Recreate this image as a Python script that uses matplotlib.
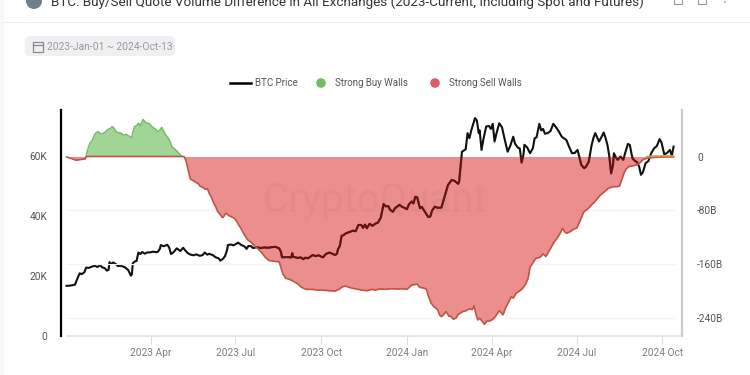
#!/usr/bin/env python3
"""BTC buy/sell quote volume difference, CryptoQuant style chart."""

import matplotlib
matplotlib.use("Agg")
import matplotlib.dates as mdates
import matplotlib.pyplot as plt
import pandas as pd
from matplotlib.lines import Line2D
from matplotlib.patches import Circle, FancyBboxPatch, Rectangle

START = pd.Timestamp("2023-01-01")

# days since START, BTC price in thousands of USD
PRICE_DAYS = [0, 4, 9, 11, 14, 16, 19, 21, 24, 27, 30, 33, 36, 38, 41, 43, 45, 46, 48, 50, 53, 55, 58, 61, 63, 66, 69, 70, 71, 73, 75, 77, 79, 81, 84, 86, 90, 93, 96, 98, 100, 101, 104, 108, 110, 112, 115, 118, 120, 122, 125, 127, 130, 133, 136, 139, 143, 146, 148, 151, 153, 157, 160, 163, 165, 168, 170, 172, 173, 176, 179, 184, 187, 191, 193, 195, 198, 200, 204,
              208, 212, 216, 220, 224, 228, 230, 231, 236, 241, 242, 243, 248, 251, 254, 256, 259, 264, 267, 270, 275, 278, 282, 285, 288, 290, 291, 293, 295, 297, 300, 304, 307, 310, 313,
              316, 318, 320, 322, 325, 328, 331, 334, 337, 340, 342, 345, 347, 350, 352, 354, 357, 360, 363, 365, 367, 370, 372, 374, 376, 379, 381, 384, 388, 390, 392, 395, 398, 402, 405, 409, 413, 416, 420, 421, 424, 426, 428,
              430, 432, 434, 436, 438, 440, 442, 443, 445, 447, 450, 453, 455, 457, 459, 461, 464, 467, 470, 473, 476, 479, 481, 484, 486, 488, 490, 491, 494, 497, 500, 502, 504, 507, 509, 511, 513, 516, 519, 522, 525, 528, 531, 536, 539, 542, 545, 548, 550, 552, 555, 557, 560, 563, 565, 567, 569, 571, 574, 576, 578, 580, 582, 584, 586, 587, 589, 591, 594, 597, 600, 602, 604, 606, 607, 609, 612, 614, 616, 618, 621, 624, 627, 630, 633, 636, 638, 641, 644, 647, 649, 651]
PRICE_K = [16.7, 16.8, 17.1, 18.7, 20.9, 20.6, 21.2, 22.8, 22.7, 23.1, 23.4, 23.0, 23.6, 22.9, 22.6, 21.8, 22.0, 24.6, 24.0, 24.5, 23.9, 23.3, 23.4, 23.1, 22.8, 22.0, 20.1, 20.6, 24.2, 24.8, 25.0, 27.8, 27.3, 28.0, 27.4, 27.8, 27.9, 28.1, 27.9, 28.1, 29.0, 30.3, 29.9, 30.4, 29.5, 27.3, 28.0, 29.2, 28.8, 28.3, 29.4, 28.6, 27.6, 27.1, 26.9, 27.2, 26.7, 27.0, 27.8, 27.1, 27.4, 26.9, 26.2, 25.9, 25.1, 25.8, 26.7, 28.5, 30.3, 30.5, 30.2, 31.1, 30.4, 29.8, 29.0, 30.0, 29.9, 29.3, 29.6,
           29.3, 29.5, 29.4, 29.6, 29.7, 29.2, 27.9, 26.2, 26.3, 26.2, 27.6, 26.4, 26.0, 26.2, 25.6, 26.1, 25.9, 27.0, 26.6, 26.9, 26.2, 27.3, 27.8, 27.4, 27.0, 27.4, 28.9, 30.0, 33.4, 33.6, 34.3, 34.7, 35.1, 34.9, 37.0,
           37.0, 36.0, 37.1, 35.9, 37.4, 36.7, 37.4, 37.8, 39.5, 44.0, 43.2, 43.3, 42.0, 41.4, 42.5, 43.0, 43.7, 43.0, 42.6, 42.2, 43.8, 44.8, 44.2, 46.4, 46.2, 42.6, 43.0, 41.5, 39.6, 39.8, 41.8, 43.1, 42.7, 42.8, 46.0, 50.3, 52.0, 51.7, 50.7, 51.5, 61.4, 61.8, 62.2,
           67.6, 65.9, 68.5, 70.5, 72.6, 71.8, 67.6, 68.5, 62.0, 65.5, 69.8, 70.0, 69.0, 70.7, 64.8, 67.5, 70.9, 69.5, 65.3, 61.4, 63.5, 66.4, 64.0, 62.8, 62.5, 57.8, 60.5, 63.7, 62.8, 60.9, 62.5, 65.9, 66.2, 70.7, 68.5, 69.0, 67.4, 67.6, 68.3, 70.7, 69.5, 68.1, 66.4, 65.3, 63.0, 60.9, 61.0, 62.0, 59.5, 57.0, 55.9, 56.4, 58.1, 63.5, 66.0, 67.6, 66.2, 64.8, 66.5, 67.8, 66.0, 63.7, 60.0, 54.2, 57.0, 60.9, 59.5, 58.7, 59.8, 58.7, 62.0, 64.0, 63.7, 60.5, 59.2, 58.5, 57.8, 56.5, 53.7, 54.5, 57.6, 58.3, 60.9, 62.5, 63.3, 65.6, 64.5, 60.5, 61.0, 62.0, 60.1, 63.1]

# strong buy walls, billions
BUY_DAYS = [21, 23, 25, 28, 30, 32, 34, 36, 38, 41, 44, 47, 49, 51, 53, 55, 58, 61, 64, 66, 68, 70, 71, 73, 75, 77, 79, 82, 85, 87, 89, 92, 95, 98, 100, 102, 104, 106, 109, 111, 113, 116, 119, 122, 124]
BUY_B = [1, 12, 19.8, 25, 33, 35.7, 37, 34, 33.8, 35.7, 40, 42, 44.6, 42, 37, 35.7, 35, 32, 33, 30.8, 30, 27.4, 36, 44.6, 46, 49.5, 46, 55.4, 50, 50, 48.4, 44, 41, 37, 39, 43.5, 38, 33, 27.4, 22, 14.6, 11, 7, 2.2, 0]
# small buy walls again at the end of the period
BUY_TAIL_DAYS = [622, 630, 640, 651]
BUY_TAIL_B = [0, 0.8, 1, 0.8]

# strong sell walls, billions
SELL_DAYS = [0, 3, 6, 10, 15, 20, 21, 124, 126, 128, 130, 132, 133, 136, 139, 141, 143, 146, 149, 151, 153, 155, 158, 160, 162, 165, 167, 168, 170, 171, 174, 177, 180, 183, 185, 187, 190, 194, 198, 202, 205, 209, 213, 217, 222, 228, 230, 232, 235, 239, 244, 248, 252, 257, 263, 269, 275, 281, 288, 292, 296, 299, 303, 307, 311, 316, 322, 327, 331, 336, 342, 348, 355, 360, 365, 368, 370, 373, 376, 378, 380, 383, 386, 388, 391, 394, 396, 398, 400, 402, 404, 407, 410, 412, 415, 418, 420, 422, 425, 428, 432, 435, 437, 439, 441, 443, 446, 448, 451, 454, 457, 460, 462, 464, 466, 468, 471, 474, 477, 479, 482, 485, 487, 489, 492, 495, 497, 498, 503, 508, 511, 514, 519, 523, 526, 529, 532, 534, 536, 540, 544, 547, 550, 553, 555, 559, 563, 566, 568, 572, 577, 581, 586, 590, 593, 596, 598, 600, 603, 607, 611, 615, 618, 622, 628, 635, 643, 651]
SELL_B = [-0.7, -2, -3.5, -5.5, -4.5, -3.5, 0, 0, 0, -6, -17.6, -30, -34, -36, -39, -40, -44, -46, -49, -48, -55, -60, -70, -75, -82, -87, -91, -90.6, -86, -84.6, -88, -90, -92, -98, -103, -107, -115, -124, -128, -134, -137, -143, -150, -155, -156, -157, -166, -175, -181.5, -183, -186.5, -190, -195, -198, -198, -199, -199, -200, -200.4, -198, -194, -193, -195, -196.5, -197.4, -199, -200, -198, -199, -197.4, -198, -197, -197.5, -197, -198, -194, -191.5, -191, -190, -194, -195.5, -196, -198, -208, -218.7, -224, -226, -228.7, -236, -238.7, -236, -231, -238, -238, -242.6, -240, -235, -233.6, -231, -230, -227, -228, -222.7, -235, -243.6, -241, -246, -250, -245, -245, -242.6, -238, -234, -229.7, -233, -236, -225, -217, -209, -211, -204, -201, -199, -196.4, -191, -181.5, -165, -163, -152, -150, -145, -149, -137, -127, -122, -115, -107, -112, -114.4, -112, -108, -107, -98, -88, -82, -78, -72, -68, -64.8, -58, -52, -47.4, -45, -45, -44, -32, -24, -18.8, -15, -14, -12.7, -9, -5, -2.7, -1.5, -1, -0.8, -0.5]

LEFT_TICKS = [0, 20, 40, 60]
LEFT_LABELS = ["0", "20K", "40K", "60K"]
RIGHT_TICKS = [0, -80, -160, -240]
RIGHT_LABELS = ["0", "-80B", "-160B", "-240B"]
DATE_TICKS = ["2023-04-01", "2023-07-01", "2023-10-01", "2024-01-01", "2024-04-01", "2024-07-01", "2024-10-01"]
DATE_LABELS = ["2023 Apr", "2023 Jul", "2023 Oct", "2024 Jan", "2024 Apr", "2024 Jul", "2024 Oct"]

TITLE = "BTC: Buy/Sell Quote Volume Difference in All Exchanges (2023-Current, Including Spot and Futures)"
DATE_RANGE = "2023-Jan-01 ~ 2024-Oct-13"

FONT = ["Roboto"]
GREY = "#7d7d7d"
GREEN_FILL, GREEN_LINE = "#9bd391", "#78bb6b"
RED_FILL, RED_LINE = "#e55f5f", "#bf5546"
W, H = 750, 375


def to_dates(days):
    return START + pd.to_timedelta(days, unit="D")


def page(fig):
    """Card furniture around the chart, in pixel coordinates."""
    bg = fig.add_axes([0, 0, 1, 1], zorder=0)
    bg.set_xlim(0, W); bg.set_ylim(H, 0); bg.axis("off")
    bg.add_patch(Rectangle((0, 0), 4, H, color="#f8f8f8", lw=0))
    bg.add_patch(Rectangle((4, 22), W - 4, 1, color="#ececec", lw=0))
    bg.add_patch(Circle((34, 1), 8, color="#6f7f8c", lw=0))
    bg.text(51, 6, TITLE, family=FONT, fontsize=9.7, color="#333333", va="baseline", ha="left")
    for x in (678, 702):
        bg.add_patch(Rectangle((x - 4, -4), 8, 8, fill=False, ec="#9a9a9a", lw=0.8))
    bg.add_patch(Circle((725, 2), 0.9, color="#9a9a9a", lw=0))
    bg.add_patch(FancyBboxPatch((27, 38), 146, 16, boxstyle="round,pad=0,rounding_size=3", mutation_aspect=1, fc="#f0f0f3", ec="#f0f0f3", lw=3))
    bg.add_patch(Rectangle((32.5, 42), 10, 9.5, fill=False, ec="#8a8a90", lw=0.9))
    bg.plot([32.5, 42.5], [44.8, 44.8], color="#8a8a90", lw=0.9)
    bg.text(47, 46.5, DATE_RANGE, family=FONT, fontsize=7.4, color="#9a9a9f", va="center", ha="left")
    # legend
    bg.add_line(Line2D([230, 251], [83, 83], color="black", lw=1.8))
    bg.text(255, 83, "BTC Price", family=FONT, fontsize=7, color="#555555", va="center")
    bg.add_patch(Circle((321, 83), 4.8, color="#71bb62", lw=0))
    bg.text(335, 83, "Strong Buy Walls", family=FONT, fontsize=7, color="#555555", va="center")
    bg.add_patch(Circle((435, 83), 4.8, color="#dd5e62", lw=0))
    bg.text(449, 83, "Strong Sell Walls", family=FONT, fontsize=7, color="#555555", va="center")


def main():
    fig = plt.figure(figsize=(W / 100, H / 100), dpi=100, facecolor="white")
    page(fig)

    ax = fig.add_axes([61 / W, 1 - 336 / H, 621 / W, 226 / H], zorder=1)
    ax.patch.set_alpha(0)
    right = ax.twinx()
    right.set_zorder(2)
    right.patch.set_alpha(0)

    price_x = to_dates(PRICE_DAYS)
    ax.plot(price_x, PRICE_K, color="#111111", lw=1.5, solid_joinstyle="round")

    buy_x, sell_x = to_dates(BUY_DAYS), to_dates(SELL_DAYS)
    right.fill_between(buy_x, BUY_B, 0, color=GREEN_FILL, lw=0, alpha=0.95)
    right.plot(buy_x, BUY_B, color=GREEN_LINE, lw=1.1)
    sell_fill = right.fill_between(sell_x, SELL_B, 0, color=RED_FILL, lw=0, alpha=0.7)
    # the price shows through the red area as dark maroon
    under = right.plot(price_x, PRICE_K, color="#5e1414", lw=1.5, transform=ax.transData)[0]
    under.set_clip_path(sell_fill.get_paths()[0], sell_fill.get_transform())
    right.plot(sell_x, SELL_B, color=RED_LINE, lw=1.2)
    right.plot(to_dates(BUY_TAIL_DAYS), BUY_TAIL_B, color="#c9a24a", lw=1.1)

    xmin, xmax = to_dates([-6])[0], to_dates([660])[0]
    ax.set_xlim(xmin, xmax)
    ax.set_ylim(0, 75.3)
    right.set_ylim(-267.5, 69.3)
    right.set_xlim(xmin, xmax)

    for val in RIGHT_TICKS[1:]:
        right.plot([to_dates([0])[0], to_dates([651])[0]], [val, val], color="#f3f3f3", lw=0.8, zorder=0)

    ax.set_yticks(LEFT_TICKS, LEFT_LABELS)
    right.set_yticks(RIGHT_TICKS, RIGHT_LABELS)
    ax.set_xticks(pd.to_datetime(DATE_TICKS), DATE_LABELS)
    ax.tick_params(axis="x", length=6, width=0.8, color="#dddddd", pad=3, labelsize=7.3, labelcolor=GREY)
    ax.tick_params(axis="y", length=0, pad=10, labelsize=7.3, labelcolor="#555555")
    right.tick_params(axis="y", length=0, pad=11, labelsize=7.3, labelcolor="#555555")
    for label in ax.get_xticklabels() + ax.get_yticklabels() + right.get_yticklabels():
        label.set_family(FONT)

    for axis in (ax, right):
        axis.spines["top"].set_visible(False)
    ax.spines["left"].set_linewidth(1.6)
    ax.spines["left"].set_color("black")
    ax.spines["right"].set_visible(False)
    ax.spines["bottom"].set_color("#e2e2e2")
    ax.spines["bottom"].set_linewidth(1.2)
    ax.spines["bottom"].set_bounds(mdates.date2num(to_dates([0])[0]), mdates.date2num(xmax))
    right.spines["left"].set_visible(False)
    right.spines["bottom"].set_visible(False)
    right.spines["right"].set_color("#cccccc")
    right.spines["right"].set_linewidth(1.6)

    fig.text(375 / W, 1 - 200 / H, "CryptoQuant", family=FONT, fontsize=29, color="#8a3a3a", alpha=0.06, ha="center", va="center", zorder=5)

    fig.savefig("out.png", dpi=100, facecolor="white")


if __name__ == "__main__":
    main()
